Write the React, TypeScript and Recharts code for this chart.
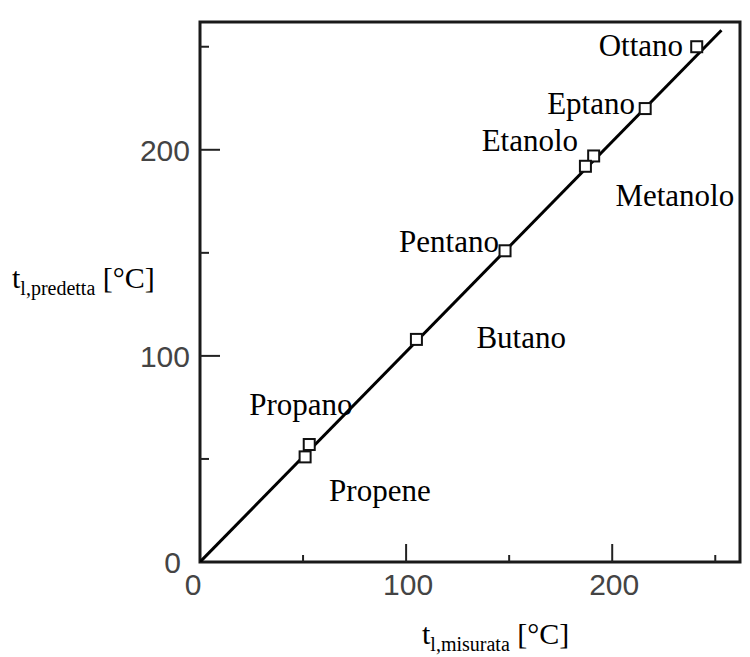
import React from 'react';
import {
  ScatterChart,
  Scatter,
  XAxis,
  YAxis,
  ReferenceArea,
  Label,
} from 'recharts';

// measured vs predicted temperatures, °C
const compounds = ['Ottano', 'Eptano', 'Etanolo', 'Metanolo', 'Pentano', 'Butano', 'Propano', 'Propene'];
const measured = [241, 216, 191, 187, 148, 105, 53, 51];
const predicted = [250, 220, 197, 192, 151, 108, 57, 51];

// straight line drawn through the points
const fitMeasured = [0, 253];
const fitPredicted = [0, 258];

const axisTicks = [0, 50, 100, 150, 200, 250];
const axisMax = 262;

// where each name sits relative to its square (text start, baseline)
const labelDx = [-98, -98, -112, 30, -106, 60, -60, 24];
const labelDy = [9, 5, -5, 40, 1, 9, -30, 44];

const points = compounds.map((name, i) => ({ x: measured[i], y: predicted[i], name, i }));
const fitLine = fitMeasured.map((x, i) => ({ x, y: fitPredicted[i] }));

const SERIF = '"Liberation Serif", "Times New Roman", serif';
const SANS = '"Liberation Sans", Arial, sans-serif';

function XTick(props: any) {
  const { x, y, payload } = props;
  const v = payload.value;
  const major = v % 100 === 0;
  const len = major ? 18 : 7;
  return (
    <g>
      {v > 0 && <line x1={x} y1={y} x2={x} y2={y - len} stroke="#222" strokeWidth={2} />}
      {major && (
        <text x={v === 0 ? x - 7 : x + 2} y={y + 33} textAnchor="middle" fontFamily={SANS} fontSize={30} fill="#444">
          {v}
        </text>
      )}
    </g>
  );
}

function YTick(props: any) {
  const { x, y, payload } = props;
  const v = payload.value;
  const major = v % 100 === 0;
  const len = major ? 20 : 9;
  return (
    <g>
      {v > 0 && <line x1={x} y1={y} x2={x + len} y2={y} stroke="#222" strokeWidth={2} />}
      {major && (
        <text x={v === 0 ? x - 19 : x - 10} y={y + 11} textAnchor="end" fontFamily={SANS} fontSize={30} fill="#444">
          {v}
        </text>
      )}
    </g>
  );
}

function PointMark(props: any) {
  const { cx, cy, payload } = props;
  const i = payload.i;
  return (
    <g>
      <rect x={cx - 5.5} y={cy - 5.5} width={11} height={11} fill="#fff" stroke="#111" strokeWidth={2} />
      <text x={cx + labelDx[i]} y={cy + labelDy[i]} fontFamily={SERIF} fontSize={31} fill="#000">
        {payload.name}
      </text>
    </g>
  );
}

function XTitle(props: any) {
  const { viewBox } = props;
  return (
    <text x={viewBox.x + 222} y={viewBox.y + 82} fontFamily={SERIF} fontSize={30} fill="#000">
      t<tspan fontSize={20} dy={7}>l,misurata</tspan>
      <tspan dy={-7}> [°C]</tspan>
    </text>
  );
}

function YTitle(props: any) {
  const { viewBox } = props;
  return (
    <text x={viewBox.x + viewBox.width - 188} y={viewBox.y + 266} fontFamily={SERIF} fontSize={30} fill="#000">
      t<tspan fontSize={20} dy={7}>l,predetta</tspan>
      <tspan dy={-7}> [°C]</tspan>
    </text>
  );
}

export default function App() {
  return (
    <div style={{ position: 'absolute', left: 0, top: 0, width: 750, height: 657, background: '#fff' }}>
      <ScatterChart width={750} height={657} margin={{ top: 22, right: 10, bottom: 94, left: 199 }}>
        <XAxis
          type="number"
          dataKey="x"
          domain={[0, axisMax]}
          ticks={axisTicks}
          interval={0}
          height={1}
          axisLine={false}
          tickLine={false}
          tickSize={0}
          tickMargin={0}
          tick={<XTick />}
          allowDataOverflow
        >
          <Label content={<XTitle />} />
        </XAxis>
        <YAxis
          type="number"
          dataKey="y"
          domain={[0, axisMax]}
          ticks={axisTicks}
          interval={0}
          width={1}
          axisLine={false}
          tickLine={false}
          tickSize={0}
          tickMargin={0}
          tick={<YTick />}
          allowDataOverflow
        >
          <Label content={<YTitle />} />
        </YAxis>
        <ReferenceArea x1={0} x2={axisMax} y1={0} y2={axisMax} fill="none" stroke="#1a1a1a" strokeWidth={3} />
        <Scatter
          data={fitLine}
          line={{ stroke: '#000', strokeWidth: 3 }}
          shape={() => <g />}
          isAnimationActive={false}
        />
        <Scatter data={points} shape={<PointMark />} isAnimationActive={false} />
      </ScatterChart>
    </div>
  );
}
